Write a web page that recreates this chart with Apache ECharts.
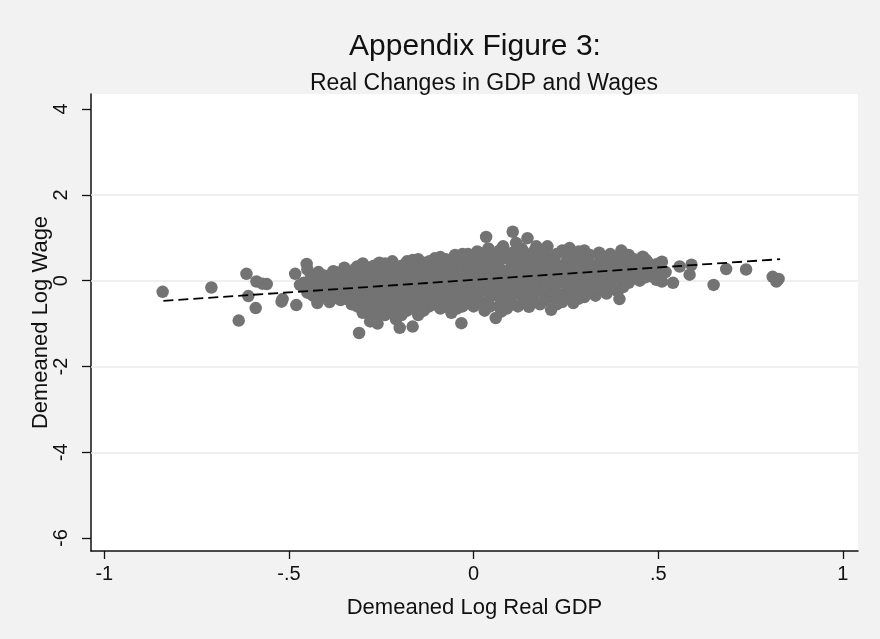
<!DOCTYPE html>
<html>
<head>
<meta charset="utf-8">
<title>Appendix Figure 3</title>
<script src="https://cdn.jsdelivr.net/npm/echarts@6/dist/echarts.min.js"></script>
<style>
  html, body { margin: 0; padding: 0; background: #f2f2f2; }
  #chart { width: 880px; height: 639px; }
</style>
</head>
<body>
<div id="chart"></div>
<script>
// [demeaned log real GDP, demeaned log wage]
const leftTail = [
  [-0.842, -0.26], [-0.71, -0.16], [-0.615, 0.16], [-0.588, -0.02], [-0.56, -0.08],
  [-0.572, -0.07], [-0.61, -0.36], [-0.59, -0.64], [-0.636, -0.93], [-0.52, -0.49],
  [-0.517, -0.43], [-0.48, -0.57], [-0.483, 0.16], [-0.452, 0.39], [-0.423, -0.52],
  [-0.47, -0.1], [-0.44, -0.2]
];

const cloud = [
  [-0.45, -0.28], [-0.46, -0.05], [-0.44, 0.12], [-0.45, 0.26],
  [-0.42, -0.45], [-0.43, -0.22], [-0.41, 0.0], [-0.42, 0.2],
  [-0.39, -0.5], [-0.38, -0.3], [-0.40, -0.1], [-0.39, 0.1], [-0.38, 0.22],
  [-0.36, -0.45], [-0.35, -0.25], [-0.37, -0.05], [-0.36, 0.15], [-0.35, 0.3],
  [-0.33, -0.55], [-0.32, -0.35], [-0.34, -0.12], [-0.33, 0.08], [-0.32, 0.28],
  [-0.30, -0.75], [-0.29, -0.52], [-0.31, -0.3], [-0.30, -0.08], [-0.29, 0.15], [-0.30, 0.4],
  [-0.28, -0.95], [-0.31, -1.22],
  [-0.27, -0.85], [-0.26, -0.6], [-0.28, -0.38], [-0.27, -0.15], [-0.26, 0.08], [-0.27, 0.35], [-0.26, -1.0],
  [-0.24, -0.8], [-0.23, -0.55], [-0.25, -0.32], [-0.24, -0.1], [-0.23, 0.12], [-0.24, 0.4],
  [-0.21, -0.9], [-0.20, -0.65], [-0.22, -0.42], [-0.21, -0.2], [-0.20, 0.05], [-0.21, 0.28], [-0.22, 0.45], [-0.20, -1.1],
  [-0.18, -0.7], [-0.17, -0.48], [-0.19, -0.25], [-0.18, 0.0], [-0.17, 0.22], [-0.18, 0.45],
  [-0.15, -0.8], [-0.14, -0.55], [-0.16, -0.32], [-0.15, -0.1], [-0.14, 0.12], [-0.15, 0.35], [-0.15, 0.5], [-0.165, -1.07],
  [-0.12, -0.6], [-0.11, -0.38], [-0.13, -0.15], [-0.12, 0.08], [-0.11, 0.3], [-0.12, 0.45],
  [-0.09, -0.65], [-0.08, -0.42], [-0.10, -0.2], [-0.09, 0.02], [-0.08, 0.25], [-0.09, 0.55],
  [-0.06, -0.75], [-0.05, -0.5], [-0.07, -0.28], [-0.06, -0.05], [-0.05, 0.18], [-0.06, 0.4], [-0.05, 0.6], [-0.033, -0.99],
  [-0.03, -0.6], [-0.02, -0.38], [-0.04, -0.15], [-0.03, 0.08], [-0.02, 0.3], [-0.03, 0.62],
  [0.0, -0.6], [0.01, -0.35], [-0.01, -0.12], [0.0, 0.12], [0.01, 0.35], [0.0, 0.55], [0.01, 0.68],
  [0.03, -0.7], [0.04, -0.45], [0.02, -0.22], [0.03, 0.0], [0.04, 0.22], [0.03, 0.45], [0.04, 0.75], [0.034, 1.02],
  [0.06, -0.87], [0.07, -0.6], [0.05, -0.35], [0.06, -0.1], [0.07, 0.15], [0.06, 0.38], [0.07, 0.7],
  [0.09, -0.65], [0.10, -0.42], [0.08, -0.18], [0.09, 0.05], [0.10, 0.28], [0.09, 0.52], [0.08, 0.8], [0.106, 1.14], [0.115, 0.88],
  [0.12, -0.6], [0.13, -0.35], [0.11, -0.1], [0.12, 0.12], [0.13, 0.35], [0.12, 0.58], [0.13, 0.75],
  [0.15, -0.61], [0.16, -0.38], [0.14, -0.15], [0.15, 0.08], [0.16, 0.3], [0.15, 0.55], [0.146, 0.99],
  [0.18, -0.55], [0.19, -0.3], [0.17, -0.08], [0.18, 0.15], [0.19, 0.38], [0.18, 0.6], [0.17, 0.8],
  [0.21, -0.68], [0.22, -0.42], [0.20, -0.2], [0.21, 0.05], [0.22, 0.28], [0.21, 0.5], [0.20, 0.8],
  [0.24, -0.5], [0.25, -0.28], [0.23, -0.05], [0.24, 0.2], [0.25, 0.42], [0.24, 0.7],
  [0.27, -0.52], [0.28, -0.3], [0.26, -0.08], [0.27, 0.15], [0.28, 0.38], [0.27, 0.6], [0.26, 0.76],
  [0.30, -0.38], [0.31, -0.15], [0.29, 0.08], [0.30, 0.3], [0.31, 0.5], [0.30, 0.7],
  [0.33, -0.35], [0.34, -0.1], [0.32, 0.12], [0.33, 0.35], [0.34, 0.65],
  [0.36, -0.3], [0.37, -0.05], [0.35, 0.18], [0.36, 0.4], [0.37, 0.62],
  [0.39, -0.25], [0.40, 0.0], [0.38, 0.22], [0.39, 0.45], [0.40, 0.7], [0.395, -0.43],
  [0.42, -0.05], [0.43, 0.15], [0.41, 0.35], [0.42, 0.6], [0.41, 0.02],
  [0.45, 0.0], [0.46, 0.2], [0.44, 0.4], [0.458, 0.56],
  [0.48, 0.1], [0.49, 0.3], [0.47, 0.45],
  [0.51, -0.02], [0.52, 0.2], [0.51, 0.44]
];

// the inner points that sit between the ones above
const cloudFill = [
  [-0.435, -0.35], [-0.435, -0.12], [-0.435, 0.08],
  [-0.405, -0.38], [-0.405, -0.2], [-0.405, -0.05], [-0.405, 0.12],
  [-0.375, -0.4], [-0.375, -0.18], [-0.375, 0.02], [-0.375, 0.2],
  [-0.345, -0.42], [-0.345, -0.2], [-0.345, 0.0], [-0.345, 0.2],
  [-0.315, -0.6], [-0.315, -0.42], [-0.315, -0.2], [-0.315, 0.0], [-0.315, 0.2], [-0.315, 0.33],
  [-0.285, -0.7], [-0.285, -0.45], [-0.285, -0.25], [-0.285, -0.02], [-0.285, 0.22], [-0.285, 0.3],
  [-0.255, -0.72], [-0.255, -0.48], [-0.255, -0.25], [-0.255, -0.02], [-0.255, 0.22], [-0.255, 0.42],
  [-0.225, -0.7], [-0.225, -0.48], [-0.225, -0.22], [-0.225, 0.0], [-0.225, 0.2], [-0.225, 0.38],
  [-0.195, -0.8], [-0.195, -0.55], [-0.195, -0.35], [-0.195, -0.12], [-0.195, 0.12], [-0.195, 0.35],
  [-0.165, -0.62], [-0.165, -0.4], [-0.165, -0.18], [-0.165, 0.05], [-0.165, 0.3], [-0.165, 0.48],
  [-0.135, -0.7], [-0.135, -0.45], [-0.135, -0.22], [-0.135, 0.0], [-0.135, 0.22], [-0.135, 0.42],
  [-0.105, -0.55], [-0.105, -0.3], [-0.105, -0.08], [-0.105, 0.15], [-0.105, 0.38], [-0.105, 0.52],
  [-0.075, -0.6], [-0.075, -0.35], [-0.075, -0.12], [-0.075, 0.1], [-0.075, 0.32], [-0.075, 0.5],
  [-0.045, -0.65], [-0.045, -0.42], [-0.045, -0.2], [-0.045, 0.02], [-0.045, 0.25], [-0.045, 0.48],
  [-0.015, -0.5], [-0.015, -0.25], [-0.015, -0.02], [-0.015, 0.2], [-0.015, 0.42], [-0.015, 0.62],
  [0.015, -0.5], [0.015, -0.25], [0.015, 0.0], [0.015, 0.22], [0.015, 0.45], [0.015, 0.65],
  [0.045, -0.6], [0.045, -0.35], [0.045, -0.12], [0.045, 0.1], [0.045, 0.32], [0.045, 0.58],
  [0.075, -0.72], [0.075, -0.48], [0.075, -0.25], [0.075, 0.0], [0.075, 0.25], [0.075, 0.5], [0.075, 0.68],
  [0.105, -0.55], [0.105, -0.3], [0.105, -0.05], [0.105, 0.18], [0.105, 0.4], [0.105, 0.65],
  [0.135, -0.5], [0.135, -0.25], [0.135, 0.0], [0.135, 0.22], [0.135, 0.45], [0.135, 0.68],
  [0.165, -0.5], [0.165, -0.25], [0.165, 0.0], [0.165, 0.2], [0.165, 0.42], [0.165, 0.7],
  [0.195, -0.45], [0.195, -0.2], [0.195, 0.05], [0.195, 0.28], [0.195, 0.5], [0.195, 0.72],
  [0.225, -0.55], [0.225, -0.3], [0.225, -0.08], [0.225, 0.15], [0.225, 0.38], [0.225, 0.62],
  [0.255, -0.4], [0.255, -0.15], [0.255, 0.08], [0.255, 0.3], [0.255, 0.55], [0.255, 0.72],
  [0.285, -0.42], [0.285, -0.2], [0.285, 0.02], [0.285, 0.25], [0.285, 0.48], [0.285, 0.68],
  [0.315, -0.28], [0.315, -0.05], [0.315, 0.18], [0.315, 0.4], [0.315, 0.6],
  [0.345, -0.22], [0.345, 0.0], [0.345, 0.25], [0.345, 0.48], [0.345, 0.58],
  [0.375, -0.18], [0.375, 0.05], [0.375, 0.3], [0.375, 0.52],
  [0.405, -0.15], [0.405, 0.1], [0.405, 0.25], [0.405, 0.48], [0.405, 0.64],
  [0.435, 0.05], [0.435, 0.28], [0.435, 0.5],
  [0.465, 0.08], [0.465, 0.3], [0.465, 0.5],
  [0.495, 0.02], [0.495, 0.22], [0.495, 0.38]
];

const rightTail = [
  [0.54, -0.05], [0.558, 0.33], [0.59, 0.37], [0.585, 0.14], [0.65, -0.10],
  [0.684, 0.27], [0.738, 0.26], [0.81, 0.09], [0.826, 0.04], [0.82, -0.02]
];

// fitted line end points
const fitGdp = [-0.84, 0.83];
const fitWage = [-0.47, 0.50];

const xTicks = [-1, -0.5, 0, 0.5, 1];
const yTicks = [-6, -4, -2, 0, 2, 4];
const yGrid = [-4, -2, 0, 2];

const font = '"Liberation Sans", Arial, Helvetica, sans-serif';

function stataNum(v) {
  if (v === 0) return '0';
  return String(v).replace('0.', '.');
}

const chart = echarts.init(document.getElementById('chart'));

chart.setOption({
  backgroundColor: '#f2f2f2',
  animation: false,
  title: [
    {
      text: 'Appendix Figure 3:',
      left: 470,
      textAlign: 'center',
      top: 27,
      textStyle: { fontFamily: font, fontSize: 30, fontWeight: 'normal', color: '#111' }
    },
    {
      text: 'Real Changes in GDP and Wages',
      left: 479,
      textAlign: 'center',
      top: 67,
      textStyle: { fontFamily: font, fontSize: 23, fontWeight: 'normal', color: '#111' }
    }
  ],
  grid: {
    left: 91,
    top: 94,
    width: 767,
    height: 457,
    show: true,
    backgroundColor: '#ffffff',
    borderWidth: 0
  },
  xAxis: {
    type: 'value',
    min: -1.036,
    max: 1.041,
    name: 'Demeaned Log Real GDP',
    nameLocation: 'middle',
    nameGap: 46,
    nameTextStyle: { fontFamily: font, fontSize: 22, color: '#111' },
    axisLine: { show: true, onZero: false, lineStyle: { color: '#111', width: 1.5 } },
    axisTick: { show: true, customValues: xTicks, length: 8, lineStyle: { color: '#111', width: 1.3 } },
    axisLabel: {
      customValues: xTicks,
      formatter: stataNum,
      margin: 13,
      fontFamily: font,
      fontSize: 20,
      color: '#111'
    },
    splitLine: { show: false }
  },
  yAxis: {
    type: 'value',
    min: -6.3,
    max: 4.35,
    name: 'Demeaned Log Wage',
    nameLocation: 'middle',
    nameGap: 39,
    nameMoveOverlap: false,
    nameTextStyle: { fontFamily: font, fontSize: 22, color: '#111' },
    axisLine: { show: true, onZero: false, lineStyle: { color: '#111', width: 1.5 } },
    axisTick: { show: true, customValues: yTicks, length: 9, lineStyle: { color: '#111', width: 1.3 } },
    axisLabel: {
      customValues: yTicks,
      formatter: stataNum,
      rotate: 90,
      margin: 20,
      fontFamily: font,
      fontSize: 20,
      color: '#111'
    },
    splitLine: { show: false }
  },
  series: [
    {
      name: 'grid',
      type: 'line',
      data: [],
      silent: true,
      z: 1,
      markLine: {
        silent: true,
        z: 1,
        zlevel: 0,
        symbol: 'none',
        label: { show: false },
        lineStyle: { type: 'solid', color: '#e8eaea', width: 1.6 },
        data: yGrid.map((v) => ({ yAxis: v }))
      }
    },
    {
      name: 'obs',
      type: 'scatter',
      symbol: 'circle',
      symbolSize: 12.5,
      z: 3,
      itemStyle: { color: '#737373', opacity: 1 },
      data: leftTail.concat(cloud, cloudFill, rightTail)
    },
    {
      name: 'fit',
      type: 'line',
      symbol: 'none',
      z: 4,
      lineStyle: { color: '#000', width: 1.8, type: [10, 5] },
      data: fitGdp.map((g, i) => [g, fitWage[i]])
    }
  ]
});
</script>
</body>
</html>
